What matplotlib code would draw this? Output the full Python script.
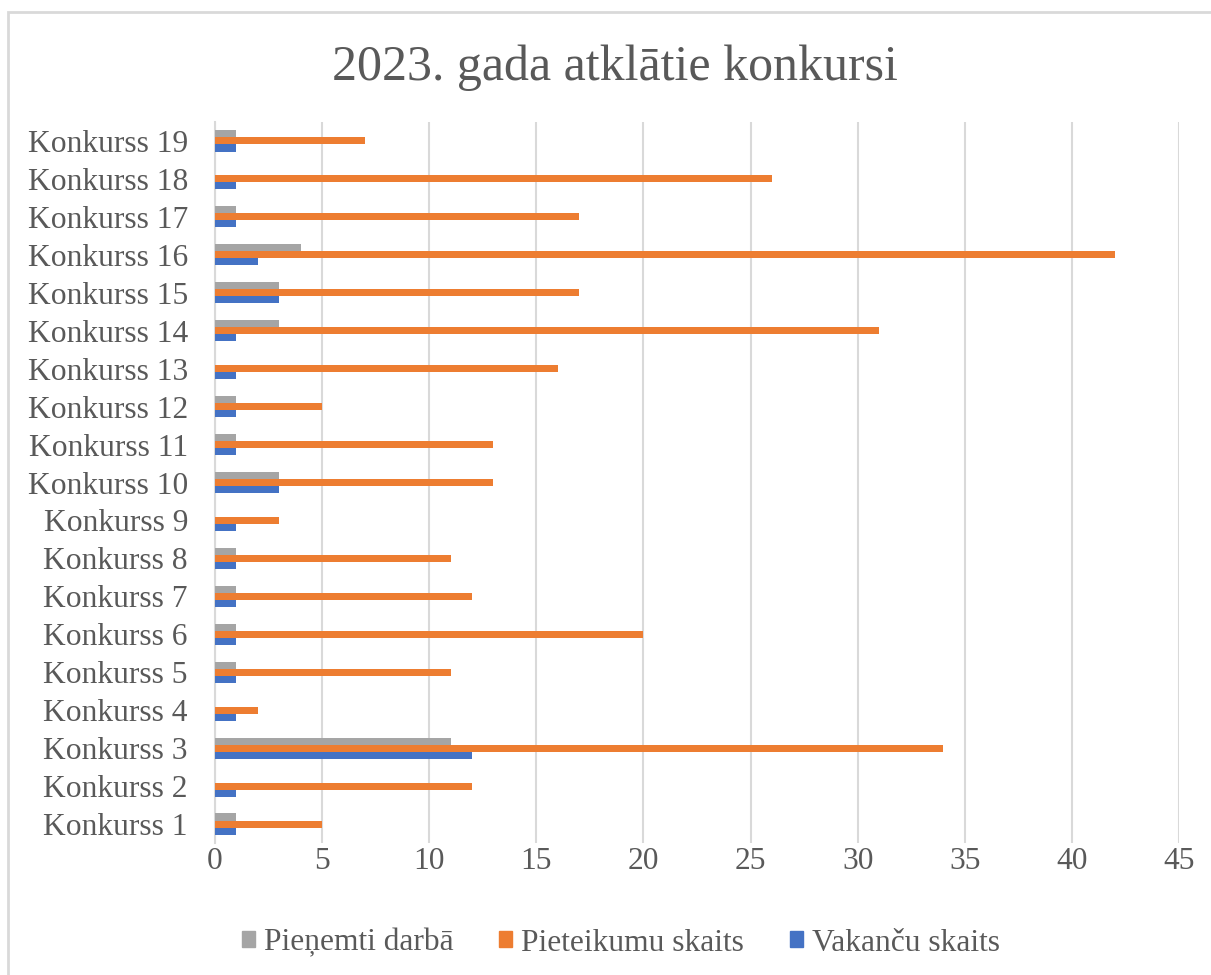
import matplotlib
matplotlib.use("Agg")
import matplotlib.pyplot as plt
import numpy as np
from matplotlib.patches import Rectangle

categories = [f"Konkurss {i}" for i in range(1, 20)]
pienemti = [1, 0, 11, 0, 1, 1, 1, 1, 0, 3, 1, 1, 0, 3, 3, 4, 1, 0, 1]
pieteikumi = [5, 12, 34, 2, 11, 20, 12, 11, 3, 13, 13, 5, 16, 31, 17, 42, 17, 26, 7]
vakances = [1, 1, 12, 1, 1, 1, 1, 1, 1, 3, 1, 1, 1, 1, 3, 2, 1, 1, 1]
series_names = ["Pieņemti darbā", "Pieteikumu skaits", "Vakanču skaits"]
colors = ["#A5A5A5", "#ED7D31", "#4472C4"]
title = "2023. gada atklātie konkursi"
xticks = list(range(0, 50, 5))

plt.rcParams['font.family'] = ['Liberation Serif', 'DejaVu Serif']
text_color = "#595959"

fig = plt.figure(figsize=(12.11, 9.75), dpi=100)
ax = fig.add_axes([215/1211, 1-843/975, (1179-215)/1211, (843-122)/975])

y = np.arange(len(categories))
h = 0.185
ax.barh(y + h, pienemti, height=h, color=colors[0], label=series_names[0], zorder=3)
ax.barh(y, pieteikumi, height=h, color=colors[1], label=series_names[1], zorder=3)
ax.barh(y - h, vakances, height=h, color=colors[2], label=series_names[2], zorder=3)

ax.set_xlim(0, 45)
ax.set_ylim(-0.5, len(categories) - 0.5)
ax.set_xticks(xticks)
ax.set_xticklabels([str(t) for t in xticks])
ax.set_yticks(y)
ax.set_yticklabels(categories)
ax.tick_params(axis='both', length=0, labelsize=22.7, colors=text_color)
ax.tick_params(axis='x', pad=3)
ax.tick_params(axis='y', pad=19.5)
ax.grid(axis='x', color="#D9D9D9", linewidth=1.5, zorder=0)
for s in ['top', 'right', 'bottom']:
    ax.spines[s].set_visible(False)
ax.spines['left'].set_color("#D9D9D9")
ax.spines['left'].set_linewidth(1.5)

fig.text(615/1211, 1-68/975, title, ha='center', va='center', fontsize=36, color=text_color)

handles = [Rectangle((0, 0), 1, 1, color=c) for c in colors]
leg = fig.legend(handles, series_names, loc='center', bbox_to_anchor=(621/1211, 1-943/975),
                 ncol=3, frameon=False, fontsize=22.7, handlelength=0.4, handleheight=0.4,
                 handletextpad=0.3, columnspacing=1.45)
for t in leg.get_texts():
    t.set_color(text_color)

border = Rectangle((7.5/1211, -0.5), 2, 1.5 - 11.5/975, transform=fig.transFigure,
                   fill=False, edgecolor="#D9D9D9", linewidth=2)
fig.add_artist(border)

fig.savefig("out.png", dpi=100)
